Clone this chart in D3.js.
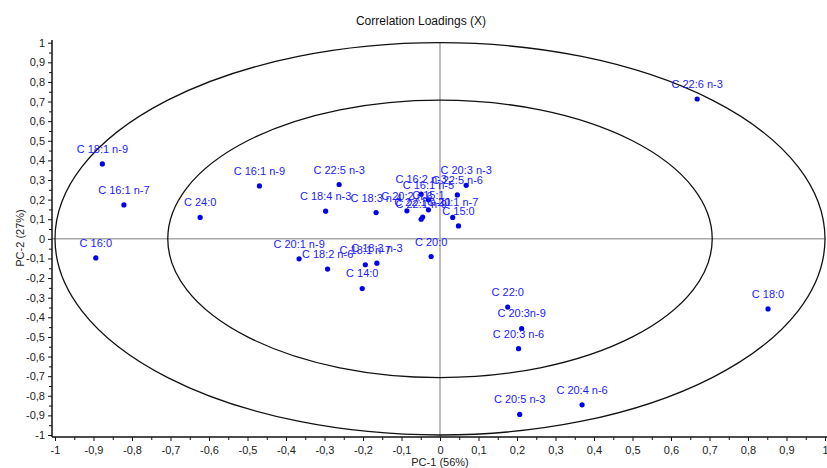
<!DOCTYPE html>
<html>
<head>
<meta charset="utf-8">
<script src="https://cdn.jsdelivr.net/npm/d3@7"></script>
<style>
	body { margin:0; background:white; }
	svg { display:block; font-family:"Liberation Sans", Arial, sans-serif; }
</style>
</head>
<body>
<script>
//variable names (labels)
var names = ["C 22:6 n-3","C 18:1 n-9","C 16:1 n-7","C 24:0","C 16:1 n-9","C 16:0",
	"C 22:5 n-3","C 18:4 n-3","C 18:3 n-4","C 20:2 n-6","C 16:2 n-3","C 16:1 n-5",
	"C 15:1","C 22:1 n-9","C 22:1 n-11","C 22:5 n-6","C 20:3 n-3","C 20:1 n-7","C 15:0",
	"C 20:1 n-9","C 18:2 n-6","C 18:1 n-7","C 18:3 n-3","C 14:0","C 20:0",
	"C 22:0","C 20:3n-9","C 20:3 n-6","C 20:5 n-3","C 20:4 n-6","C 18:0"];

//PC-1 loadings
var pc1 = [0.668,-0.877,-0.821,-0.623,-0.469,-0.894,
	-0.262,-0.297,-0.166,-0.086,-0.049,-0.030,
	-0.030,-0.049,-0.045,0.045,0.068,0.033,0.048,
	-0.366,-0.292,-0.194,-0.164,-0.202,-0.023,
	0.176,0.212,0.204,0.207,0.369,0.852];

//PC-2 loadings
var pc2 = [0.713,0.382,0.173,0.109,0.270,-0.097,
	0.277,0.141,0.134,0.143,0.228,0.199,
	0.148,0.100,0.111,0.224,0.273,0.109,0.066,
	-0.102,-0.154,-0.132,-0.124,-0.253,-0.090,
	-0.348,-0.457,-0.560,-0.895,-0.846,-0.357];

//ticks
var major_ticks = d3.range(-10, 11).map(function(d){ return d/10; });
var minor_ticks = d3.range(-10, 10).map(function(d){ return d/10 + 0.05; });

//circles of explained variance (100% and 50%)
var radii = [1, Math.sqrt(0.5)];

var w = 827, h = 468;
var ax_left = 52, ax_bottom = 437, ax_top = 42, ax_right = 827;

var x = d3.scaleLinear().domain([-1, 1]).range([55, 825]);
var y = d3.scaleLinear().domain([-1, 1]).range([435, 42.7]);

var fmt = function(d){
	if (Math.abs(d) < 1e-9) return "0";
	return String(+d.toFixed(1)).replace(".", ",");
};

var svg = d3.select("body").append("svg")
	.attr("width", w)
	.attr("height", h);

//title
svg.append("text")
	.attr("x", 421)
	.attr("y", 25)
	.attr("text-anchor", "middle")
	.style("font-size", "12px")
	.style("fill", "#111")
	.text("Correlation Loadings (X)");

//zero lines
svg.append("line")
	.attr("x1", ax_left).attr("x2", x(1))
	.attr("y1", y(0)).attr("y2", y(0))
	.attr("stroke", "#a8a8a8")
	.attr("stroke-width", 1.5);

svg.append("line")
	.attr("x1", x(0)).attr("x2", x(0))
	.attr("y1", ax_top).attr("y2", ax_bottom)
	.attr("stroke", "#a8a8a8")
	.attr("stroke-width", 1.5);

//ellipses
svg.selectAll("ellipse.ring")
	.data(radii)
	.enter().append("ellipse")
	.attr("class", "ring")
	.attr("cx", x(0))
	.attr("cy", y(0))
	.attr("rx", function(r){ return x(r) - x(0); })
	.attr("ry", function(r){ return y(0) - y(r); })
	.attr("fill", "none")
	.attr("stroke", "#111")
	.attr("stroke-width", 1.3);

//x axis
var x_axis = svg.append("g")
	.attr("transform", "translate(0," + ax_bottom + ")")
	.call(d3.axisBottom(x).tickValues(major_ticks).tickFormat(fmt).tickSize(4).tickPadding(5));
svg.append("g")
	.attr("transform", "translate(0," + ax_bottom + ")")
	.call(d3.axisBottom(x).tickValues(minor_ticks).tickFormat("").tickSize(3));

//y axis
var y_axis = svg.append("g")
	.attr("transform", "translate(" + ax_left + ",0)")
	.call(d3.axisLeft(y).tickValues(major_ticks).tickFormat(fmt).tickSize(4).tickPadding(3));
svg.append("g")
	.attr("transform", "translate(" + ax_left + ",0)")
	.call(d3.axisLeft(y).tickValues(minor_ticks).tickFormat("").tickSize(3));

svg.selectAll(".domain").remove();
svg.selectAll(".tick line").attr("stroke", "#111");
svg.selectAll(".tick text")
	.style("font-family", "Liberation Sans, Arial, sans-serif")
	.style("font-size", "11px")
	.attr("fill", "#222");

//axis lines
svg.append("line")
	.attr("x1", ax_left).attr("x2", ax_right)
	.attr("y1", ax_bottom).attr("y2", ax_bottom)
	.attr("stroke", "#111").attr("stroke-width", 1.5);
svg.append("line")
	.attr("x1", ax_left).attr("x2", ax_left)
	.attr("y1", ax_top - 2).attr("y2", ax_bottom)
	.attr("stroke", "#111").attr("stroke-width", 1.5);

//axis titles
svg.append("text")
	.attr("x", 440)
	.attr("y", 466)
	.attr("text-anchor", "middle")
	.style("font-size", "11px")
	.style("fill", "#222")
	.text("PC-1 (56%)");

svg.append("text")
	.attr("transform", "translate(24,238) rotate(-90)")
	.attr("text-anchor", "middle")
	.style("font-size", "11px")
	.style("fill", "#222")
	.text("PC-2 (27%)");

//points and labels
var pts = names.map(function(n, i){ return {name:n, px:pc1[i], py:pc2[i]}; });

svg.selectAll("circle.pt")
	.data(pts)
	.enter().append("circle")
	.attr("class", "pt")
	.attr("cx", function(d){ return x(d.px); })
	.attr("cy", function(d){ return y(d.py); })
	.attr("r", 2.6)
	.attr("fill", "#0000ee");

svg.selectAll("text.lbl")
	.data(pts)
	.enter().append("text")
	.attr("class", "lbl")
	.attr("x", function(d){ return x(d.px); })
	.attr("y", function(d){ return y(d.py) - 11; })
	.attr("text-anchor", "middle")
	.style("font-size", "11px")
	.style("fill", "#1a1aff")
	.text(function(d){ return d.name; });
</script>
</body>
</html>
